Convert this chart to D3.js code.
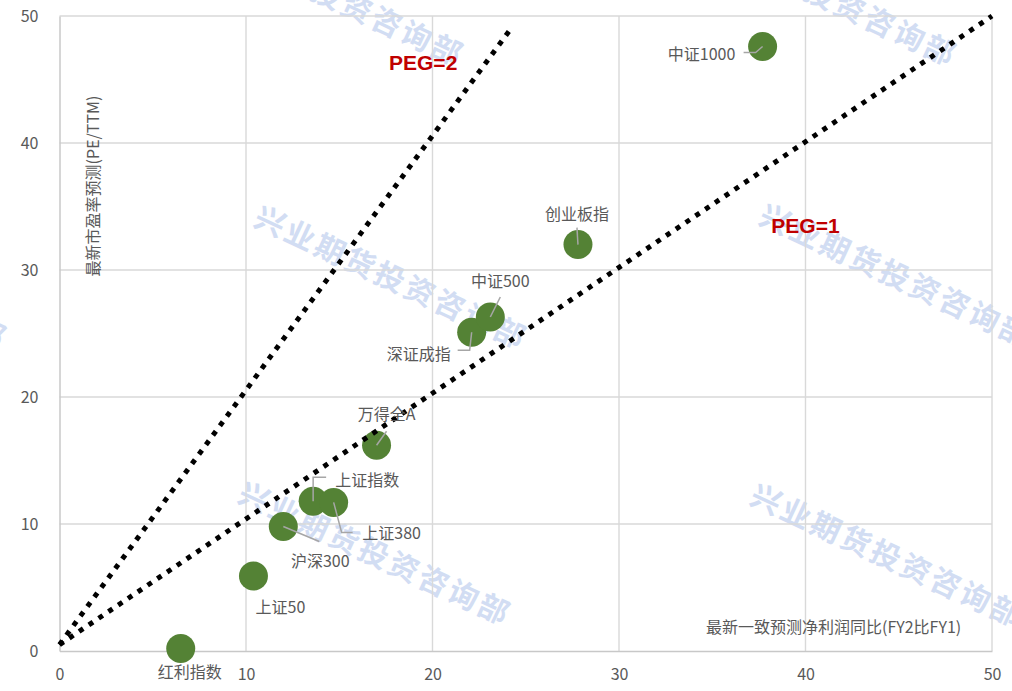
<!DOCTYPE html>
<html>
<head>
<meta charset="utf-8">
<script src="https://cdn.jsdelivr.net/npm/d3@7"></script>
<style>
  html, body { margin: 0; padding: 0; background: #ffffff; }
  svg { display: block; }
</style>
</head>
<body>
<div id="chart"></div>
<script>
// ---- data ----
const indexNames   = ["红利指数", "上证50", "沪深300", "上证指数", "上证380", "万得全A", "深证成指", "中证500", "创业板指", "中证1000"];
const profitGrowth = [6.5, 10.4, 12.0, 13.6, 14.7, 17.0, 22.1, 23.1, 27.8, 37.7];   // FY2 vs FY1 net profit growth (%)
const peForecast   = [0.2, 5.9, 9.8, 11.8, 11.7, 16.2, 25.1, 26.3, 32.0, 47.6];     // PE (TTM)
const xTickValues  = [0, 10, 20, 30, 40, 50];
const yTickValues  = [0, 10, 20, 30, 40, 50];
const pegNames     = ["PEG=1", "PEG=2"];
const peg1Line     = [[0, 0.5], [50, 50]];
const peg2Line     = [[0, 0.5], [24.3, 49.2]];
const pegLabelAt   = [[40.0, 33.5], [19.5, 46.3]];
const xTitle = "最新一致预测净利润同比(FY2比FY1)";
const yTitle = "最新市盈率预测(PE/TTM)";
const watermarkText = "兴业期货投资咨询部";

// ---- layout ----
const W = 1012, H = 691;
const plot = { left: 59.5, right: 992, top: 16, bottom: 651 };

// label placement relative to each bubble (px), and leader line vertices
const labelOffsets = [[9, 23], [27, 30], [37, 33], [54, -22], [58, 30], [10, -32], [-53, 21], [10, -37], [-1, -32], [-61, 7]];
const leaderPaths = [
  null,
  null,
  [[0, 0], [36, 15]],
  [[0, 0], [0, -24], [13, -24]],
  [[0, 0], [8, 30], [19, 30]],
  [[0, 0], [10, -14]],
  [[0, 0], [-2, 18], [-14, 18]],
  [[0, 0], [10, -20]],
  [[0, 0], [-1, -17]],
  [[0, 0], [-7, 6], [-19, 6]]
];
const watermarkCenters = [[329, -7], [822, -7], [-128, 276], [392, 276], [897, 274], [376, 552], [888, 554]];

const cjk = "'Noto Sans CJK SC', 'Microsoft YaHei', sans-serif";
const textColor = "#595959";

const svg = d3.select("#chart").append("svg")
  .attr("width", W).attr("height", H)
  .attr("viewBox", `0 0 ${W} ${H}`);

svg.append("rect").attr("width", W).attr("height", H).attr("fill", "#ffffff");

const x = d3.scaleLinear().domain([0, 50]).range([plot.left, plot.right]);
const y = d3.scaleLinear().domain([0, 50]).range([plot.bottom, plot.top]);

// watermark layer
const wm = svg.append("g").attr("class", "watermark");
wm.selectAll("text").data(watermarkCenters).join("text")
  .attr("transform", d => `translate(${d[0]},${d[1]}) rotate(25)`)
  .attr("text-anchor", "middle")
  .attr("dominant-baseline", "central")
  .attr("font-family", cjk)
  .attr("font-weight", 700)
  .attr("font-size", 30)
  .attr("letter-spacing", 3)
  .attr("fill", "#d2ddf3")
  .text(watermarkText);

// grid
const grid = svg.append("g").attr("class", "grid");
grid.selectAll("line.v").data(xTickValues.filter(v => v > 0)).join("line")
  .attr("class", "v")
  .attr("x1", d => x(d)).attr("x2", d => x(d))
  .attr("y1", plot.top).attr("y2", plot.bottom)
  .attr("stroke", "#d9d9d9").attr("stroke-width", 1.4);
grid.selectAll("line.h").data(yTickValues.filter(v => v > 0)).join("line")
  .attr("class", "h")
  .attr("x1", plot.left).attr("x2", plot.right)
  .attr("y1", d => y(d)).attr("y2", d => y(d))
  .attr("stroke", "#d9d9d9").attr("stroke-width", 1.4);

// axes
const xAxis = svg.append("g")
  .attr("transform", `translate(0,${plot.bottom})`)
  .call(d3.axisBottom(x).tickValues(xTickValues).tickSize(0).tickPadding(18));
const yAxis = svg.append("g")
  .attr("transform", `translate(${plot.left},0)`)
  .call(d3.axisLeft(y).tickValues(yTickValues).tickSize(0).tickPadding(21));
[xAxis, yAxis].forEach(g => {
  g.select(".domain").attr("stroke", "#c8c8c8").attr("stroke-width", 1.5);
  g.selectAll("text")
    .attr("font-family", cjk)
    .attr("font-size", 16)
    .attr("fill", textColor);
});

// axis titles
svg.append("text")
  .attr("x", 706).attr("y", 626)
  .attr("dominant-baseline", "central")
  .attr("font-family", cjk).attr("font-size", 16)
  .attr("fill", textColor)
  .text(xTitle);
svg.append("text")
  .attr("transform", "translate(92,186) rotate(-90)")
  .attr("text-anchor", "middle")
  .attr("dominant-baseline", "central")
  .attr("font-family", cjk).attr("font-size", 16)
  .attr("fill", textColor)
  .text(yTitle);

// bubbles
const points = indexNames.map((name, i) => ({ name, gx: profitGrowth[i], pe: peForecast[i], i }));
svg.append("g").selectAll("circle").data(points).join("circle")
  .attr("cx", d => x(d.gx)).attr("cy", d => y(d.pe))
  .attr("r", 14.5)
  .attr("fill", "#548235");

// PEG reference lines
const line = d3.line().x(d => x(d[0])).y(d => y(d[1]));
svg.append("g").selectAll("path").data([peg1Line, peg2Line]).join("path")
  .attr("d", line)
  .attr("fill", "none")
  .attr("stroke", "#000000")
  .attr("stroke-width", 5)
  .attr("stroke-dasharray", "5,6.8");

svg.append("g").selectAll("text").data(pegNames).join("text")
  .attr("x", (d, i) => x(pegLabelAt[i][0]))
  .attr("y", (d, i) => y(pegLabelAt[i][1]))
  .attr("text-anchor", "middle")
  .attr("dominant-baseline", "central")
  .attr("font-family", "'Liberation Sans', Arial, sans-serif")
  .attr("font-weight", 700)
  .attr("font-size", 21)
  .attr("fill", "#c00000")
  .text(d => d);

// leader lines
svg.append("g").selectAll("path").data(points.filter(d => leaderPaths[d.i])).join("path")
  .attr("d", d => {
    const cx = x(d.gx), cy = y(d.pe);
    return d3.line()(leaderPaths[d.i].map(p => [cx + p[0], cy + p[1]]));
  })
  .attr("fill", "none")
  .attr("stroke", "#a6a6a6")
  .attr("stroke-width", 1.5);

// data labels
svg.append("g").selectAll("text").data(points).join("text")
  .attr("x", d => x(d.gx) + labelOffsets[d.i][0])
  .attr("y", d => y(d.pe) + labelOffsets[d.i][1])
  .attr("text-anchor", "middle")
  .attr("dominant-baseline", "central")
  .attr("font-family", cjk)
  .attr("font-size", 16)
  .attr("fill", textColor)
  .text(d => d.name);
</script>
</body>
</html>
